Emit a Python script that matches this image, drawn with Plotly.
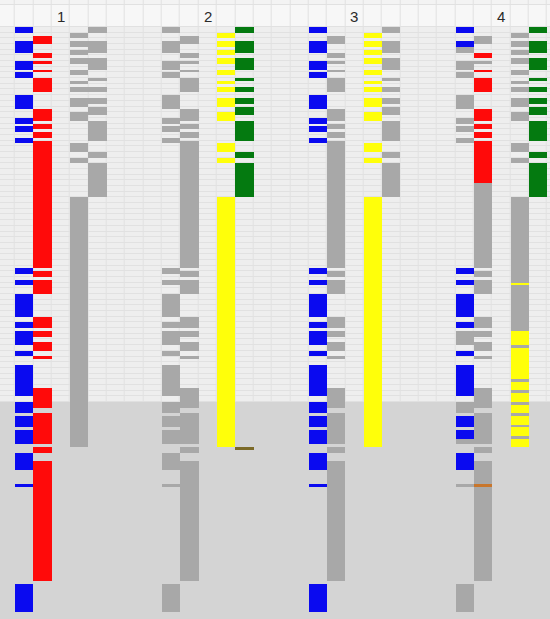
import numpy as np
import plotly.graph_objects as go

# ---- sheet geometry -------------------------------------------------------
N_ROWS = 103          # data rows of the sheet
N_COLS = 31           # columns 0..30
HALF = 2              # colour cells are stored at half-row resolution
USED_ROWS = 66        # rows of the light, gridded part of the sheet

# ---- base row patterns (start_row, end_row), rows counted from the top ----
pat_a = [(0, 1), (2.5, 4.5), (6, 7.5), (8, 9), (12, 14.5), (16, 17), (17.5, 18.5),
         (19.5, 20.5), (42.5, 43.5), (44.5, 45.5), (47, 51), (52, 53), (53.5, 56),
         (57, 58), (59.5, 65), (66, 68), (68.5, 70.5), (71, 73.5), (75, 78),
         (80.5, 81), (98, 103)]
pat_b = [(1.5, 3), (4.5, 5.5), (6, 6.5), (7.5, 8), (9, 11.5), (14.5, 16.5), (17, 18),
         (18.5, 19.5), (20, 42.5), (43, 44), (44.5, 47), (51, 53), (53.5, 54.5),
         (55.5, 57), (58, 58.5), (63.5, 67), (68, 73.5), (74, 75), (76.5, 97.5)]
pat_c = [(1, 2), (2.5, 3.5), (4, 5), (5.5, 6.5), (7.5, 8.5), (9.5, 10), (10.5, 11.5),
         (12.5, 14), (15, 16.5), (20.5, 22), (23, 24), (30, 74)]
pat_d = [(0, 1), (2.5, 4.5), (5.5, 7.5), (9, 9.5), (10.5, 11.5), (12.5, 13.5),
         (14, 15.5), (16.5, 20), (22, 23), (24, 30)]

# rows of group 4 that keep their colour (the rest of the pattern is grey)
hl_a = [(0, 1), (2.5, 3.5), (42.5, 45.5), (47, 51), (52, 53), (57, 58), (59.5, 65),
        (68.5, 70.5), (71, 72.5), (75, 78)]
hl_b = [(4.5, 5.5), (7.5, 8), (9, 11.5), (14.5, 16.5), (17, 19.5), (20, 27.5)]
hl_c = [(45, 45.5), (53.5, 56), (56.5, 62), (62.5, 64), (64.5, 66), (66.5, 68),
        (68.5, 70), (70.5, 72), (72.5, 74)]
hl_d = [(0, 30)]

# columns holding each pattern in groups 1..4
cols_a = [1, 9, 17, 25]
cols_b = [2, 10, 18, 26]
cols_c = [4, 12, 20, 28]
cols_d = [5, 13, 21, 29]

# fill per group ("hl" = coloured on highlighted rows, grey elsewhere)
fill_a = ["blue", "gray", "blue", "hl"]
fill_b = ["red", "gray", "gray", "hl"]
fill_c = ["gray", "yellow", "yellow", "hl"]
fill_d = ["gray", "green", "gray", "hl"]
hl_colour = {"a": "blue", "b": "red", "c": "yellow", "d": "green"}

# single marked cells: (column, start_row, end_row, fill)
extra_cells = [(13, 74, 74.5, "olive"), (26, 80.5, 81, "orange")]

group_labels = ["1", "2", "3", "4"]
label_cols = [3, 11, 19, 27]

# ---- styling --------------------------------------------------------------
fill_names = ["blue", "red", "gray", "yellow", "green", "olive", "orange"]
fill_hex = ["#0a0af0", "#ff0a0a", "#a8a8a8", "#ffff0a", "#047a10", "#7c6a28", "#c8762c"]
code = {n: i for i, n in enumerate(fill_names)}

z = np.full((N_ROWS * HALF, N_COLS), np.nan)


def paint(col, segs, name):
    for s, e in segs:
        for r in range(int(round(s * HALF)), int(round(e * HALF))):
            z[r, col] = code[name]


def in_ranges(r, ranges):
    y = (r + 0.5) / HALF
    return any(s <= y < e for s, e in ranges)


for key, pat, cols, fills, hl in [("a", pat_a, cols_a, fill_a, hl_a),
                                  ("b", pat_b, cols_b, fill_b, hl_b),
                                  ("c", pat_c, cols_c, fill_c, hl_c),
                                  ("d", pat_d, cols_d, fill_d, hl_d)]:
    for col, f in zip(cols, fills):
        if f != "hl":
            paint(col, pat, f)
        else:
            for s, e in pat:
                for r in range(int(round(s * HALF)), int(round(e * HALF))):
                    z[r, col] = code[hl_colour[key] if in_ranges(r, hl) else "gray"]

for col, s, e, f in extra_cells:
    paint(col, [(s, e)], f)

n = len(fill_names)
cscale = []
for i, c in enumerate(fill_hex):
    cscale += [[i / n, c], [(i + 1) / n, c]]

# ---- sheet background ----------------------------------------------------
# gridded part: top strip, header row and the used rows
y_top = [-4.75, -3.87] + list(range(0, USED_ROWS + 1))
bg = np.full((len(y_top) - 1, N_COLS), 2.0)
bg[0, :] = 0
bg[1, :] = 1
bg_hex = ["#f3f3f3", "#f7f7f7", "#eeeeee"]
bg_scale = []
for i, c in enumerate(bg_hex):
    bg_scale += [[i / 3, c], [(i + 1) / 3, c]]

fig = go.Figure()
fig.add_trace(go.Heatmap(
    z=bg, x=np.arange(-0.5, N_COLS + 0.5, 1.0), y=y_top,
    colorscale=bg_scale, zmin=-0.5, zmax=2.5, showscale=False,
    xgap=1, ygap=1, hoverinfo="skip"))
# unused rows: flat grey, no grid
fig.add_trace(go.Heatmap(
    z=np.zeros((1, N_COLS)), x=np.arange(-0.5, N_COLS + 0.5, 1.0),
    y=[USED_ROWS, 104.5], colorscale=[[0, "#d4d4d4"], [1, "#d4d4d4"]],
    showscale=False, hoverinfo="skip"))
fig.add_trace(go.Heatmap(
    z=z, x=np.arange(N_COLS), y=(np.arange(N_ROWS * HALF) + 0.5) / HALF,
    colorscale=cscale, zmin=-0.5, zmax=n - 0.5, showscale=False,
    hoverinfo="skip"))

for lab, c in zip(group_labels, label_cols):
    fig.add_annotation(x=c, y=-1.9, text=lab, showarrow=False,
                       font=dict(size=15, color="#2a2a2a", family="Liberation Sans"))

fig.update_layout(
    width=550, height=619, margin=dict(l=0, r=0, t=0, b=0),
    plot_bgcolor="#e1e1e1", paper_bgcolor="#f2f2f2",
    xaxis=dict(range=[-0.317, 29.66], visible=False, fixedrange=True),
    yaxis=dict(range=[104.2, -4.75], visible=False, fixedrange=True),
    showlegend=False,
)

fig.write_html("out.html")
